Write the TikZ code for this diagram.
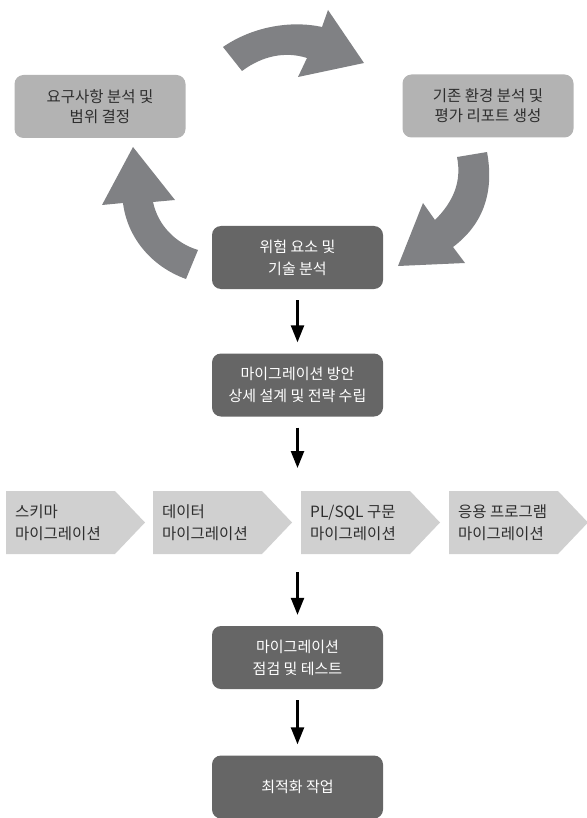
\documentclass[tikz,border=0pt]{standalone}
\usepackage{fontspec}
\setmainfont{Noto Sans CJK KR}
\usetikzlibrary{arrows.meta}
\definecolor{lbox}{HTML}{B3B3B3}
\definecolor{dbox}{HTML}{666666}
\definecolor{cgray}{HTML}{D0D0D0}
\definecolor{agray}{HTML}{808184}
\definecolor{tdark}{HTML}{2E2E2E}
\begin{document}
\begin{tikzpicture}[x=1pt,y=-1pt,
  lightbox/.style={fill=lbox, rounded corners=9pt, minimum width=171pt, minimum height=63pt,
    align=center, text=tdark, inner sep=0pt, font=\fontsize{15.5}{20}\selectfont},
  darkbox/.style={fill=dbox, rounded corners=9pt, minimum width=171pt, minimum height=63pt,
    align=center, text=white, inner sep=0pt, font=\fontsize{15}{22}\selectfont},
  chevtext/.style={anchor=west, align=left, text=tdark, inner sep=0pt, font=\fontsize{15.5}{22}\selectfont},
  flow/.style={line width=2.4pt, -{Triangle[width=13pt,length=17pt]}, shorten >=11pt, shorten <=11pt},
  cyc/.style={fill=agray}
]
\useasboundingbox (0,0) rectangle (586,818);

% cycle boxes
\node[lightbox] (req) at (100,106.5) {요구사항 분석 및\\범위 결정};
\node[lightbox] (env) at (488,106) {기존 환경 분석 및\\평가 리포트 생성};
\node[darkbox] (risk) at (297.5,257.5) {위험 요소 및\\기술 분석};

% curved cycle arrows
\fill[cyc] (223,47) .. controls (252,27) and (290,20) .. (322,27) -- (328,10) -- (364,63) -- (298,77) -- (307,58)
  .. controls (285,51) and (262,56) .. (242,71) -- cycle;
\fill[cyc] (457,157) -- (487,152) .. controls (495,195) and (481,226) .. (453,247) -- (465,263) -- (398,266) -- (423,203) -- (435,220)
  .. controls (453,202) and (462,182) .. (457,157) -- cycle;
\fill[cyc] (133,147) -- (175,200) -- (153,202) .. controls (158,225) and (175,243) .. (198,250) -- (186,279)
  .. controls (150,266) and (127,236) .. (123,203) -- (102,205) -- cycle;

% main flow
\node[darkbox] (plan) at (297.5,385) {마이그레이션 방안\\상세 설계 및 전략 수립};

% chevrons
\foreach \l/\n in {6/c1,153/c2,301/c3,449/c4}{
  \fill[cgray] (\l,491) -- (\l+109,491) -- (\l+139,522.5) -- (\l+109,554) -- (\l,554) -- cycle;
}
\node[chevtext] (t1) at (15,522.5) {스키마\\마이그레이션};
\node[chevtext] (t2) at (162,522.5) {데이터\\마이그레이션};
\node[chevtext] (t3) at (310,522.5) {PL/SQL 구문\\마이그레이션};
\node[chevtext] (t4) at (458,522.5) {응용 프로그램\\마이그레이션};
\coordinate (rowtop) at (297.5,479);
\coordinate (rowbot) at (297.5,561);

\node[darkbox] (test) at (297.5,657.5) {마이그레이션\\점검 및 테스트};
\node[darkbox] (opt) at (297.5,787) {최적화 작업};

\draw[flow] (risk) -- (plan);
\draw[flow] (plan) -- (rowtop);
\draw[flow] (rowbot) -- (test);
\draw[flow] (test) -- (opt);
\end{tikzpicture}
\end{document}
